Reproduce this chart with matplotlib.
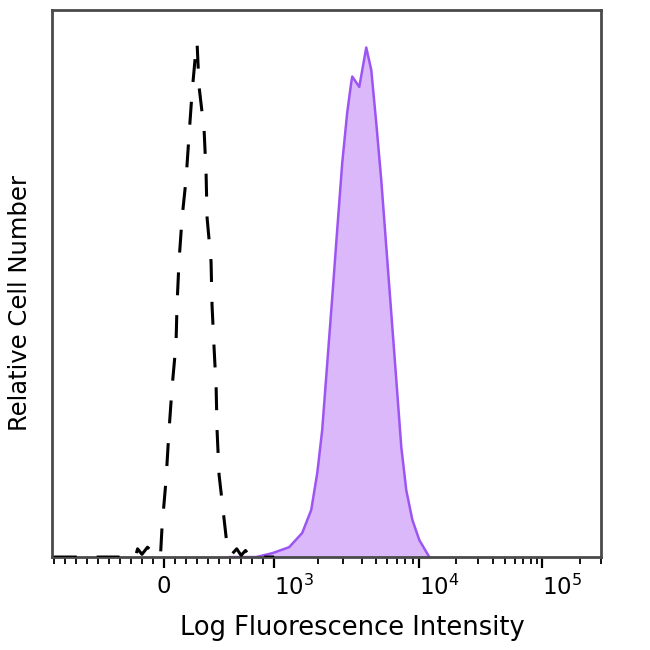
import numpy as np
import matplotlib
matplotlib.use("Agg")
import matplotlib.pyplot as plt
from matplotlib.ticker import FixedLocator, NullFormatter

# isotype control (dashed), fluorescence value vs % of max
ctrl_x = [-1000, -600, -260, -240, -200, -150, -100, -60, -30, -18, 18, 45, 73, 109, 118,
          136, 164, 200, 227, 255, 291, 300, 318, 364, 382, 391, 427, 436, 455,
          473, 482, 500, 545, 573, 610, 660, 700, 740, 780, 1000]
ctrl_y = [0, 0, 0, 1.5, 0.5, 1.8, 0.8, 2.0, 1.0, 5.5, 14, 23, 31, 39, 46,
          54, 62, 69, 77, 85, 93, 94, 86, 78, 70, 62, 54, 46, 38,
          31, 23, 15, 7, 2, 0.4, 1.5, 0.3, 1.2, 0, 0]

# stained sample (purple fill)
samp_x = [600, 836, 982, 1268, 1560, 1800, 1982, 2142, 2322, 2513, 2718, 2943, 3185,
          3395, 3450, 3857, 4308, 4665, 5050, 5466, 5918, 6407, 6937, 7510, 8130,
          8950, 10000, 12050]
samp_y = [0, 0, 0.7, 1.8, 4.4, 8.6, 15.4, 23.2, 35.5, 47.5, 59.8, 72.0, 81.2,
          86.7, 87.8, 85.9, 93.1, 89.0, 79.3, 68.9, 56.7, 44.6, 32.4, 20.1, 12.2,
          6.8, 3.1, 0]

major_vals = [0, 1e3, 1e4, 1e5]
major_labels = ["0", "$10^{3}$", "$10^{4}$", "$10^{5}$"]

U_LOG = [3, 4, 5, 6]
U_POS = [1.0, 2.318, 3.436, 4.554]


def fwd(x):
    x = np.asarray(x, float)
    a = np.abs(x)
    lg = np.log10(np.maximum(a, 1000))
    return np.where(a <= 1000, x / 1000, np.sign(x) * np.interp(lg, U_LOG, U_POS))


def inv(u):
    u = np.asarray(u, float)
    a = np.abs(u)
    lg = np.interp(np.maximum(a, 1), U_POS, U_LOG)
    return np.where(a <= 1, u * 1000, np.sign(u) * 10 ** lg)


fig = plt.figure(figsize=(6.5, 6.5), dpi=100)
ax = fig.add_axes([0.08, 0.143, 0.845, 0.842])
ax.set_xscale("function", functions=(fwd, inv))

ax.fill_between(samp_x, samp_y, 0, color="#dab8fa", lw=0, zorder=1)
ax.plot(samp_x, samp_y, color="#9d55f2", lw=1.8, zorder=2)
ax.plot(ctrl_x, ctrl_y, color="black", lw=2.2, dashes=[7.5, 6.5], zorder=3)

ax.set_xlim(-1030, 3.0e5)
ax.set_ylim(0, 100)
ax.set_yticks([])

minors = list(range(-1000, 1001, 100))
for d in [1e3, 1e4, 1e5]:
    minors += [d * k for k in range(2, 10)]
ax.xaxis.set_major_locator(FixedLocator(major_vals))
ax.xaxis.set_minor_locator(FixedLocator(minors))
ax.xaxis.set_minor_formatter(NullFormatter())
ax.set_xticklabels(major_labels, fontsize=16.5)
for i, lab in enumerate(ax.get_xticklabels()):
    if i > 0:
        lab.set_ha("left")
ax.tick_params(axis="x", which="major", length=8, width=1.6, direction="out", pad=5)
ax.tick_params(axis="x", which="minor", length=5, width=1.3, direction="out")

for s in ax.spines.values():
    s.set_color("#4a4a4a")
    s.set_linewidth(2)

ax.set_xlabel("Log Fluorescence Intensity", fontsize=18.5)
ax.xaxis.set_label_coords(0.547, -0.105)
ax.set_ylabel("Relative Cell Number", fontsize=17.5)
ax.yaxis.set_label_coords(-0.036, 0.464)

fig.savefig("out.png", dpi=100)
